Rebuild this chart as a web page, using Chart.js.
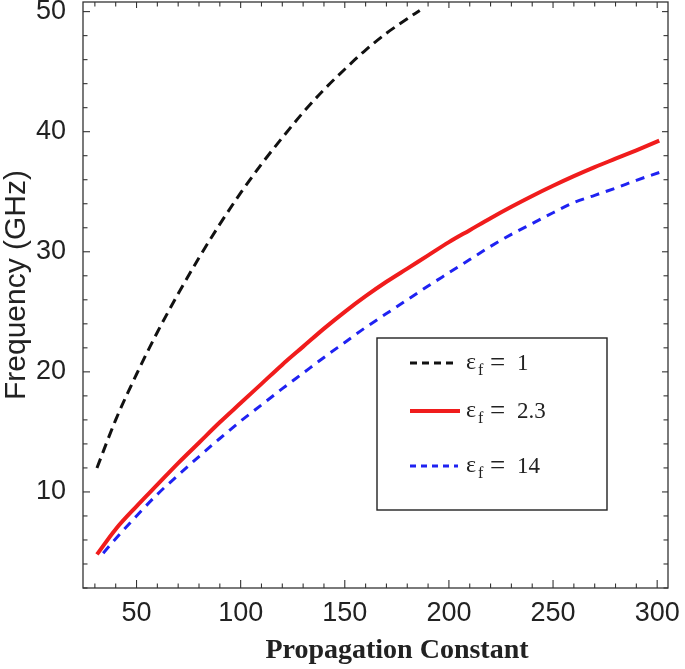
<!DOCTYPE html>
<html>
<head>
<meta charset="utf-8">
<script src="https://cdn.jsdelivr.net/npm/chart.js@4.4.1/dist/chart.umd.min.js"></script>
<style>
  html, body { margin: 0; padding: 0; background: #fff; }
  #wrap { width: 685px; height: 669px; position: relative; }
</style>
</head>
<body>
<div id="wrap"><canvas id="myChart" width="685" height="669"></canvas></div>
<script>
// values
const seriesNames = ['1', '2.3', '14'] // epsilon_f of each curve

const xBlack = [31, 40, 50, 60, 70, 80, 90, 100, 110, 120, 130, 140, 150, 160, 170, 180, 186]
const yBlack = [12.0, 16.0, 19.8, 23.3, 26.5, 29.5, 32.3, 34.9, 37.3, 39.5, 41.6, 43.5, 45.2, 46.8, 48.2, 49.4, 50.1]

const xRed = [31, 40, 50, 60, 70, 80, 90, 100, 110, 120, 130, 140, 150, 160, 170, 180, 190, 200, 210, 220, 230, 240, 250, 260, 270, 280, 290, 301]
const yRed = [4.8, 6.9, 8.8, 10.6, 12.4, 14.1, 15.8, 17.4, 19.0, 20.6, 22.1, 23.6, 25.0, 26.3, 27.5, 28.6, 29.7, 30.8, 31.8, 32.8, 33.75, 34.65, 35.5, 36.3, 37.05, 37.75, 38.45, 39.25]

const xBlue = [34, 40, 50, 60, 70, 80, 90, 100, 110, 120, 130, 140, 150, 160, 170, 180, 190, 200, 210, 220, 230, 240, 250, 260, 270, 280, 290, 301]
const yBlue = [4.9, 6.1, 8.0, 9.8, 11.4, 12.95, 14.45, 15.9, 17.25, 18.6, 19.9, 21.2, 22.45, 23.7, 24.85, 26.0, 27.15, 28.25, 29.35, 30.45, 31.45, 32.35, 33.25, 34.1, 34.7, 35.3, 35.95, 36.6]

const xLabelEvery = 50
const yLabelEvery = 10

const toPoints = (xs, ys) => xs.map((x, i) => ({ x: x, y: ys[i] }))
const isMultiple = (v, m) => Math.abs(v / m - Math.round(v / m)) < 1e-6

const colors = ['#111111', '#f01c1c', '#1f22f2']

// frame + inward tick marks on all four sides
const framePlugin = {
    id: 'frame',
    afterDatasetsDraw(chart) {
        const { ctx, chartArea: a, scales } = chart
        const line = (x1, y1, x2, y2) => {
            ctx.beginPath(); ctx.moveTo(x1, y1); ctx.lineTo(x2, y2); ctx.stroke()
        }
        ctx.save()
        ctx.strokeStyle = '#333'
        ctx.lineWidth = 1.3
        ctx.strokeRect(a.left, a.top, a.right - a.left, a.bottom - a.top)
        ctx.lineWidth = 1.1
        scales.x.ticks.forEach(t => {
            if (!isMultiple(t.value, 10)) return
            const px = scales.x.getPixelForValue(t.value)
            const major = isMultiple(t.value, xLabelEvery)
            line(px, a.bottom, px, a.bottom - (major ? 8 : 4.5))
            line(px, a.top, px, a.top + (major ? 6 : 4.5))
        })
        scales.y.ticks.forEach(t => {
            if (!isMultiple(t.value, 2)) return
            const py = scales.y.getPixelForValue(t.value)
            const major = isMultiple(t.value, yLabelEvery)
            line(a.left, py, a.left + (major ? 7 : 4.5), py)
            line(a.right, py, a.right - (major ? 6 : 4.5), py)
        })
        ctx.restore()
    },
    afterDraw(chart) {
        const { ctx, chartArea: a } = chart
        ctx.save()
        // axis titles
        ctx.fillStyle = '#222'
        ctx.textAlign = 'center'
        ctx.textBaseline = 'middle'
        ctx.font = 'bold 28px "Liberation Serif"'
        ctx.fillText('Propagation Constant', a.left + 314, 651)
        ctx.translate(17, a.top + 283)
        ctx.rotate(-Math.PI / 2)
        ctx.font = '30px "Liberation Sans"'
        ctx.fillText('Frequency (GHz)', 0, 0)
        ctx.restore()

        // legend box
        const bx = a.left + 294, by = a.top + 336
        ctx.save()
        ctx.fillStyle = '#fff'
        ctx.fillRect(bx, by, 230, 172)
        ctx.strokeStyle = '#222'
        ctx.lineWidth = 1.4
        ctx.strokeRect(bx, by, 230, 172)
        const rowY = [25, 73, 128]
        chart.data.datasets.forEach((ds, i) => {
            const y = by + rowY[i]
            ctx.strokeStyle = ds.borderColor
            ctx.lineWidth = i === 1 ? 4 : 3
            ctx.setLineDash(i === 0 ? [7, 5] : i === 2 ? [6, 5] : [])
            ctx.beginPath(); ctx.moveTo(bx + 33, y); ctx.lineTo(bx + (i === 1 ? 83 : 81), y); ctx.stroke()
            ctx.setLineDash([])
            ctx.fillStyle = '#222'
            ctx.textAlign = 'left'
            ctx.textBaseline = 'alphabetic'
            ctx.font = '24px "Liberation Serif"'
            ctx.fillText('ε', bx + 89, y + 6)
            ctx.font = '16px "Liberation Serif"'
            ctx.fillText('f', bx + 101, y + 12)
            ctx.font = '27px "Liberation Serif"'
            ctx.fillText('=', bx + 113, y + 8)
            ctx.font = '23px "Liberation Serif"'
            ctx.fillText(seriesNames[i], bx + 140, y + 7)
        })
        ctx.restore()
    }
}

const ctx = document.getElementById('myChart').getContext('2d')

const myChart = new Chart(ctx, {
    type: 'line',
    data: {
        datasets: [{
            label: 'εf = ' + seriesNames[0],
            data: toPoints(xBlack, yBlack),
            borderColor: colors[0],
            borderWidth: 3,
            borderDash: [10, 6],
            pointRadius: 0,
            cubicInterpolationMode: 'monotone'
        }, {
            label: 'εf = ' + seriesNames[1],
            data: toPoints(xRed, yRed),
            borderColor: colors[1],
            borderWidth: 4,
            pointRadius: 0,
            cubicInterpolationMode: 'monotone'
        }, {
            label: 'εf = ' + seriesNames[2],
            data: toPoints(xBlue, yBlue),
            borderColor: colors[2],
            borderWidth: 3,
            borderDash: [9, 7],
            pointRadius: 0,
            cubicInterpolationMode: 'monotone'
        }]
    },
    options: {
        responsive: false,
        animation: false,
        layout: { padding: { top: 2, right: 17, left: 0, bottom: 0 } },
        plugins: {
            legend: { display: false },
            tooltip: { enabled: false }
        },
        scales: {
            x: {
                type: 'linear',
                min: 24.3,
                max: 305.2,
                grid: { display: false },
                border: { display: false },
                ticks: {
                    stepSize: 10,
                    includeBounds: false,
                    autoSkip: false,
                    maxRotation: 0,
                    padding: 1,
                    color: '#222',
                    font: { family: 'Liberation Sans', size: 27 },
                    callback: v => isMultiple(v, xLabelEvery) ? v : ''
                },
                afterFit: scale => {
                    scale.height = 81
                    scale.paddingLeft = 0
                    scale.paddingRight = 0
                }
            },
            y: {
                min: 2,
                max: 50.8,
                grid: { display: false },
                border: { display: false },
                ticks: {
                    stepSize: 2,
                    includeBounds: false,
                    autoSkip: false,
                    padding: 9,
                    color: '#222',
                    font: { family: 'Liberation Sans', size: 27 },
                    callback: v => isMultiple(v, yLabelEvery) ? Math.round(v) : ''
                },
                afterFit: scale => {
                    scale.width = 83
                    scale.paddingTop = 0
                    scale.paddingBottom = 0
                }
            }
        }
    },
    plugins: [framePlugin]
})
</script>
</body>
</html>
